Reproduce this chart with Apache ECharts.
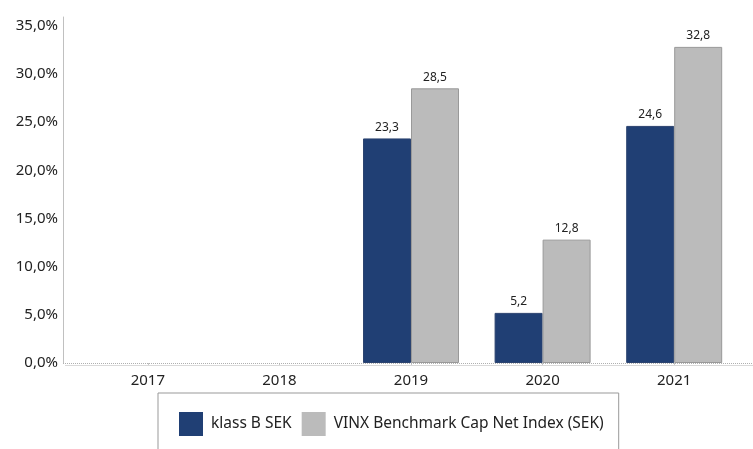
<!DOCTYPE html>
<html>
<head>
<meta charset="utf-8">
<script src="https://cdn.jsdelivr.net/npm/echarts@6/dist/echarts.min.js"></script>
<style>
  html, body { margin: 0; padding: 0; background: #fff; }
  #chart { width: 753px; height: 449px; }
</style>
</head>
<body>
<div id="chart"></div>
<script>
const years = ['2017', '2018', '2019', '2020', '2021']
const klassB = [null, null, 23.3, 5.2, 24.6]
const vinx = [null, null, 28.5, 12.8, 32.8]
const seriesNames = ['klass B SEK', 'VINX Benchmark Cap Net Index (SEK)']

const font = '"Noto Sans", sans-serif'
const comma = (v) => String(v).replace('.', ',')

const chart = echarts.init(document.getElementById('chart'))

const barLabel = {
  show: true,
  position: 'top',
  distance: 5,
  fontSize: 12,
  fontFamily: font,
  color: '#222',
  formatter: (p) => comma(p.value.toFixed(1))
}

chart.setOption({
  animation: false,
  grid: {
    left: 82,
    right: 13,
    top: 17,
    bottom: 86
  },
  xAxis: {
    type: 'category',
    data: years,
    axisLine: { show: false },
    axisTick: {
      show: true,
      alignWithLabel: true,
      length: 3,
      lineStyle: { color: '#c8c8c8' }
    },
    axisLabel: {
      fontSize: 15,
      fontFamily: font,
      color: '#222',
      margin: 10
    }
  },
  yAxis: {
    type: 'value',
    min: 0,
    max: 35.9,
    interval: 5,
    offset: 19,
    splitLine: { show: false },
    axisLine: {
      show: true,
      lineStyle: { color: '#c0c0c0', width: 1 }
    },
    axisTick: { show: false },
    axisLabel: {
      showMaxLabel: false,
      fontSize: 15,
      fontFamily: font,
      color: '#222',
      margin: 5,
      formatter: (v) => comma(v.toFixed(1)) + '%'
    }
  },
  legend: {
    left: 158,
    top: 393,
    padding: [19, 15, 22, 21],
    borderColor: '#999',
    borderWidth: 1,
    itemWidth: 24,
    itemHeight: 24,
    itemGap: 10,
    icon: 'rect',
    itemStyle: { borderWidth: 0 },
    textStyle: {
      fontSize: 15.5,
      fontFamily: font,
      color: '#222',
      padding: [0, 0, 0, 3]
    },
    data: seriesNames
  },
  graphic: [
    {
      type: 'line',
      shape: { x1: 63, y1: 363.5, x2: 753, y2: 363.5 },
      style: { stroke: '#b0b0b0', lineWidth: 1, lineDash: [1, 1] },
      z: 10
    },
    {
      type: 'line',
      shape: { x1: 65, y1: 365.5, x2: 753, y2: 365.5 },
      style: { stroke: '#d9d9d9', lineWidth: 1 },
      z: 10
    }
  ],
  series: [
    {
      name: seriesNames[0],
      type: 'bar',
      data: klassB,
      barWidth: 48,
      barGap: 0,
      itemStyle: { color: '#203f74', borderColor: '#2c4470', borderWidth: 1 },
      label: barLabel
    },
    {
      name: seriesNames[1],
      type: 'bar',
      data: vinx,
      barWidth: 48,
      itemStyle: { color: '#bbbbbb', borderColor: '#999999', borderWidth: 1 },
      label: barLabel
    }
  ]
})
</script>
</body>
</html>
